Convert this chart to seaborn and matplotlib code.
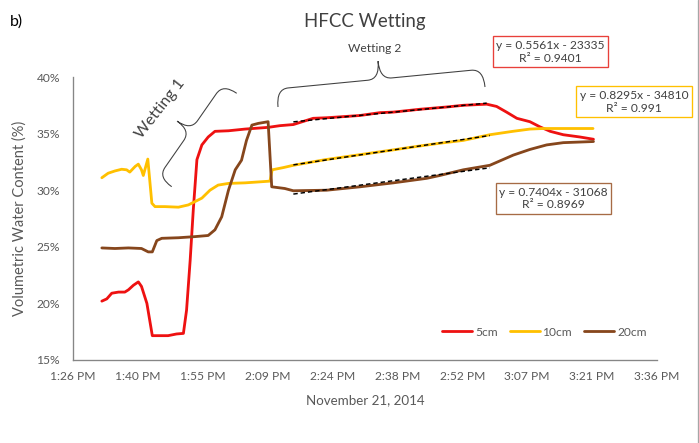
import matplotlib.pyplot as plt
import seaborn as sns
import numpy as np
import pandas as pd
from matplotlib.path import Path
from matplotlib.patches import PathPatch
from matplotlib.lines import Line2D

# time axis: minutes after 1:26 PM (0.56 day), November 21, 2014
t_5cm = [6.4, 7.5, 8.6, 10.1, 11.5, 12.3, 13.4, 14.5, 15.2, 16.4, 17.6, 21.1, 23.0, 24.5, 25.2,
         26.0, 26.7, 27.5, 28.6, 30.0, 31.5, 34.5, 38.2, 43.3, 45.9, 48.9, 53.3, 56.3, 63.7, 68.1,
         71.1, 77.0, 82.9, 86.6, 91.8, 94.0, 96.2, 98.5, 101.4, 103.6, 105.9, 108.8, 112.5, 115.5]
vwc_5cm = [20.2, 20.4, 20.9, 21.0, 21.0, 21.2, 21.6, 21.9, 21.5, 20.0, 17.15, 17.15, 17.3, 17.35, 19.4,
           23.8, 28.3, 32.7, 34.0, 34.7, 35.2, 35.25, 35.4, 35.55, 35.7, 35.8, 36.35, 36.4, 36.6, 36.85,
           36.9, 37.15, 37.35, 37.5, 37.6, 37.4, 36.9, 36.35, 36.05, 35.6, 35.2, 34.9, 34.7, 34.5]

t_10cm = [6.4, 7.8, 9.3, 10.8, 11.9, 12.6, 13.8, 14.5, 15.2, 15.6, 16.6, 17.5, 18.2, 20.4, 23.4,
          25.6, 27.1, 28.6, 30.4, 32.2, 34.5, 38.2, 41.9, 43.7, 44.2, 46.7, 48.9, 56.0, 63.0, 70.0,
          76.0, 81.4, 86.6, 92.5, 97.6, 101.4, 104.3, 115.4]
vwc_10cm = [31.1, 31.5, 31.7, 31.85, 31.8, 31.6, 32.1, 32.3, 31.8, 31.3, 32.75, 28.85, 28.55, 28.55, 28.5,
            28.7, 29.0, 29.3, 30.0, 30.45, 30.6, 30.65, 30.75, 30.8, 31.8, 32.0, 32.2, 32.7, 33.1, 33.5,
            33.85, 34.15, 34.4, 34.9, 35.2, 35.4, 35.45, 35.45]

t_20cm = [6.4, 9.3, 12.3, 15.2, 16.7, 17.6, 18.6, 19.7, 23.4, 27.1, 30.0, 31.5, 33.0, 34.5, 36.0,
          37.4, 38.5, 39.7, 41.1, 43.3, 44.1, 47.0, 48.9, 56.3, 63.7, 71.1, 78.5, 81.4, 86.6, 92.5,
          97.7, 101.4, 105.1, 108.8, 115.5]
vwc_20cm = [24.9, 24.85, 24.9, 24.85, 24.55, 24.55, 25.55, 25.75, 25.8, 25.9, 26.0, 26.5, 27.65, 30.0, 31.8,
            32.65, 34.4, 35.75, 35.9, 36.05, 30.3, 30.15, 29.95, 30.0, 30.3, 30.65, 31.05, 31.3, 31.8, 32.2,
            33.1, 33.6, 34.0, 34.2, 34.3]

depths = ['5cm', '10cm', '20cm']
colors = ['#EE1111', '#FFC000', '#86461C']
box_edges = ['#E8403A', '#FFC000', '#A66B45']
eq_labels = ['y = 0.5561x - 23335\nR² = 0.9401',
             'y = 0.8295x - 34810\nR² = 0.991',
             'y = 0.7404x - 31068\nR² = 0.8969']

# linear-fit window for "Wetting 2" (minutes)
fit_start, fit_end = 48.5, 93.0

tick_step = 14.4  # 0.01 day
tick_labels = ['1:26 PM', '1:40 PM', '1:55 PM', '2:09 PM', '2:24 PM',
               '2:38 PM', '2:52 PM', '3:07 PM', '3:21 PM', '3:36 PM']
y_ticks = [15, 20, 25, 30, 35, 40]

series = [(t_5cm, vwc_5cm), (t_10cm, vwc_10cm), (t_20cm, vwc_20cm)]
df = pd.concat([pd.DataFrame({'time': t, 'vwc': v, 'depth': d})
                for (t, v), d in zip(series, depths)], ignore_index=True)

sns.set_style('white')
plt.rcParams['font.family'] = ['Lato', 'DejaVu Sans']

W, H = 699, 443
fig = plt.figure(figsize=(W / 96, H / 96), dpi=96)
fig.patch.set_facecolor('white')


def px(x, y):
    # pixel position (from top-left) -> figure fraction
    return x / W, 1 - y / H


ax = fig.add_axes([73 / W, 1 - 360 / H, (657 - 73) / W, (360 - 77) / H])

sns.lineplot(data=df, x='time', y='vwc', hue='depth', hue_order=depths,
             palette=dict(zip(depths, colors)), estimator=None, sort=False,
             linewidth=2.1, ax=ax)

for (t, v) in series:
    t = np.asarray(t)
    v = np.asarray(v)
    m = (t >= fit_start) & (t <= fit_end)
    sns.regplot(x=t[m], y=v[m], scatter=False, ci=None, ax=ax,
                line_kws=dict(color='black', lw=1.1, dashes=(3, 2)))

ax.set_xlim(0, tick_step * 9)
ax.set_xticks(np.arange(10) * tick_step)
ax.set_xticklabels(tick_labels)
ax.set_ylim(15, 40)
ax.set_yticks(y_ticks)
ax.set_yticklabels([f'{v}%' for v in y_ticks])
ax.tick_params(length=0, labelsize=9, colors='#595959')
ax.tick_params(axis='y', pad=9.5)
ax.tick_params(axis='x', pad=8)
sns.despine(ax=ax)
for s in ['left', 'bottom']:
    ax.spines[s].set_color('#868686')
    ax.spines[s].set_linewidth(1)

ax.set_xlabel('November 21, 2014', fontsize=10, color='#595959', va='center')
ax.xaxis.set_label_coords(0.5, (360 - 400) / 283)
ax.set_ylabel('Volumetric Water Content (%)', fontsize=11, color='#595959', va='center', ha='center')
ax.yaxis.set_label_coords((20 - 73) / 584, (360 - 218) / 283)
ax.set_title('HFCC Wetting', fontsize=14, color='#404040', y=(360 - 22) / 283, va='center', pad=0)

sns.move_legend(ax, 'center', bbox_to_anchor=((544.5 - 73) / 584, (360 - 332) / 283),
                ncol=3, frameon=False, title=None, fontsize=9, handlelength=2.5,
                handletextpad=0.25, columnspacing=1.0)
for txt in ax.get_legend().get_texts():
    txt.set_color('#595959')

# trendline equation boxes
for (cx, cy), label, ec in zip([(550.5, 52), (634, 102), (553.5, 198.5)], eq_labels, box_edges):
    fig.text(*px(cx, cy), label, ha='center', va='center', fontsize=9, color='#404040',
             multialignment='center',
             bbox=dict(boxstyle='square,pad=0.3', fc='white', ec=ec, lw=1))


def brace(a, b, depth, curl):
    a = np.array(a, float)
    b = np.array(b, float)
    L = np.linalg.norm(b - a)
    d = (b - a) / L
    n = np.array([d[1], -d[0]])
    h = depth / 2
    local = [(0, 0), (0, h), (curl, h), (L / 2 - curl, h), (L / 2, h), (L / 2, depth),
             (L / 2, h), (L / 2 + curl, h), (L - curl, h), (L, h), (L, 0)]
    codes = [Path.MOVETO, Path.CURVE3, Path.CURVE3, Path.LINETO, Path.CURVE3, Path.CURVE3,
             Path.CURVE3, Path.CURVE3, Path.LINETO, Path.CURVE3, Path.CURVE3]
    pts = [px(*(a + u * d + v * n)) for u, v in local]
    fig.add_artist(PathPatch(Path(pts, codes), fill=False, ec='#404040', lw=0.8,
                             transform=fig.transFigure))


brace((171.7, 186.7), (236.7, 93.3), 33, 12)
brace((278, 107), (485, 87), 36, 12)
fig.text(*px(160, 109), 'Wetting 1', rotation=52, ha='center', va='center',
         fontsize=12, color='#404040')
fig.text(*px(375, 48), 'Wetting 2', ha='center', va='center', fontsize=9, color='#404040')

fig.text(*px(16, 22), 'b)', ha='center', va='center', fontsize=12, color='black')

fig.add_artist(Line2D([697.5 / W, 697.5 / W], [0, 1], transform=fig.transFigure,
                      color='#a6a6a6', lw=1))

fig.savefig('out.png', dpi=96, facecolor='white')
